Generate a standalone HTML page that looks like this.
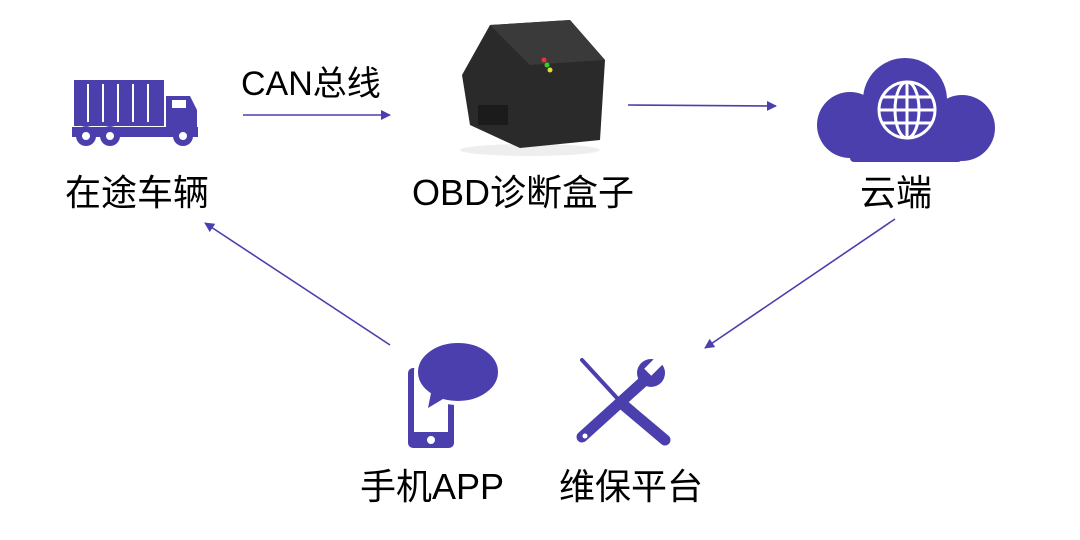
<!DOCTYPE html><html><head><meta charset="utf-8"><style>
body{margin:0;width:1080px;height:540px;background:#fff;overflow:hidden;position:relative;font-family:"Liberation Sans","Noto Sans CJK SC",sans-serif;}
.t{position:absolute;font-size:36px;color:#000;white-space:nowrap;line-height:1;}
</style></head><body>
<svg width="1080" height="540" style="position:absolute;left:0;top:0">
<defs><marker id="a" markerWidth="10" markerHeight="10" refX="9" refY="5" orient="auto" markerUnits="userSpaceOnUse"><path d="M0,0 L10,5 L0,10z" fill="#4b3fae"/></marker></defs>
<g stroke="#4b3fae" stroke-width="1.6" fill="none">
<line x1="243" y1="115" x2="390" y2="115" marker-end="url(#a)"/>
<line x1="628" y1="105" x2="776" y2="106" marker-end="url(#a)"/>
<line x1="895" y1="219" x2="705" y2="348" marker-end="url(#a)"/>
<line x1="390" y1="345" x2="205" y2="223" marker-end="url(#a)"/>
</g>
<g fill="#4b3fae">
<rect x="74" y="80" width="90" height="46"/>
<g stroke="#fff" stroke-width="2"><line x1="88" y1="84" x2="88" y2="122"/><line x1="103" y1="84" x2="103" y2="122"/><line x1="118" y1="84" x2="118" y2="122"/><line x1="133" y1="84" x2="133" y2="122"/><line x1="148" y1="84" x2="148" y2="122"/></g>
<path d="M166,96 L190,96 L197,110 L197,135 L166,135z"/>
<rect x="72" y="127" width="126" height="10"/>
<circle cx="86" cy="136" r="10"/><circle cx="110" cy="136" r="10"/><circle cx="183" cy="136" r="10"/>
<circle cx="86" cy="136" r="4" fill="#fff"/><circle cx="110" cy="136" r="4" fill="#fff"/><circle cx="183" cy="136" r="4" fill="#fff"/>
<rect x="172" y="100" width="14" height="8" fill="#fff"/>
</g>
<g>
<ellipse cx="530" cy="150" rx="70" ry="6" fill="#eee"/>
<path d="M462,75 L490,25 L570,20 L605,60 L600,140 L520,148 L470,125z" fill="#2a2a2a"/>
<path d="M490,25 L570,20 L605,60 L530,65z" fill="#3a3a3a"/>
<rect x="478" y="105" width="30" height="20" fill="#1b1b1b"/>
<circle cx="544" cy="60" r="2.5" fill="#e33"/><circle cx="547" cy="65" r="2.5" fill="#3c3"/><circle cx="550" cy="70" r="2.5" fill="#dd3"/>
</g>
<g fill="#4b3fae">
<circle cx="905" cy="100" r="42"/><circle cx="850" cy="125" r="33"/><circle cx="962" cy="128" r="33"/>
<rect x="850" y="110" width="112" height="52" rx="4"/>
</g>
<g stroke="#fff" stroke-width="3" fill="none">
<circle cx="907" cy="110" r="28"/><ellipse cx="907" cy="110" rx="12" ry="28"/><line x1="879" y1="110" x2="935" y2="110"/><line x1="883" y1="97" x2="931" y2="97"/><line x1="883" y1="123" x2="931" y2="123"/><line x1="907" y1="82" x2="907" y2="138"/>
</g>
<g fill="#4b3fae">
<rect x="408" y="368" width="46" height="80" rx="5"/>
<rect x="414" y="374" width="34" height="58" fill="#fff"/>
<circle cx="431" cy="440" r="4" fill="#fff"/>
<ellipse cx="458" cy="372" rx="42" ry="31" stroke="#fff" stroke-width="4"/>
<path d="M432,388 L428,408 L448,396z"/>
</g>
<g fill="#4b3fae" stroke="#4b3fae" stroke-linecap="round">
<line x1="582" y1="360" x2="617" y2="398" stroke-width="4"/>
<line x1="620" y1="402" x2="665" y2="440" stroke-width="11"/>
<line x1="582" y1="437" x2="645" y2="380" stroke-width="11"/>
<circle cx="651" cy="373" r="14" stroke="none"/>
</g>
<rect x="647" y="352" width="10" height="22" fill="#fff" transform="rotate(45 652 368)"/>
<circle cx="585" cy="436" r="2.5" fill="#fff"/>
</svg>
<div class="t" style="left:241px;top:67px;font-size:34px">CAN总线</div>
<div class="t" style="left:65px;top:175px">在途车辆</div>
<div class="t" style="left:412px;top:175px">OBD诊断盒子</div>
<div class="t" style="left:860px;top:175px">云端</div>
<div class="t" style="left:360px;top:469px">手机APP</div>
<div class="t" style="left:559px;top:469px">维保平台</div>
</body></html>
